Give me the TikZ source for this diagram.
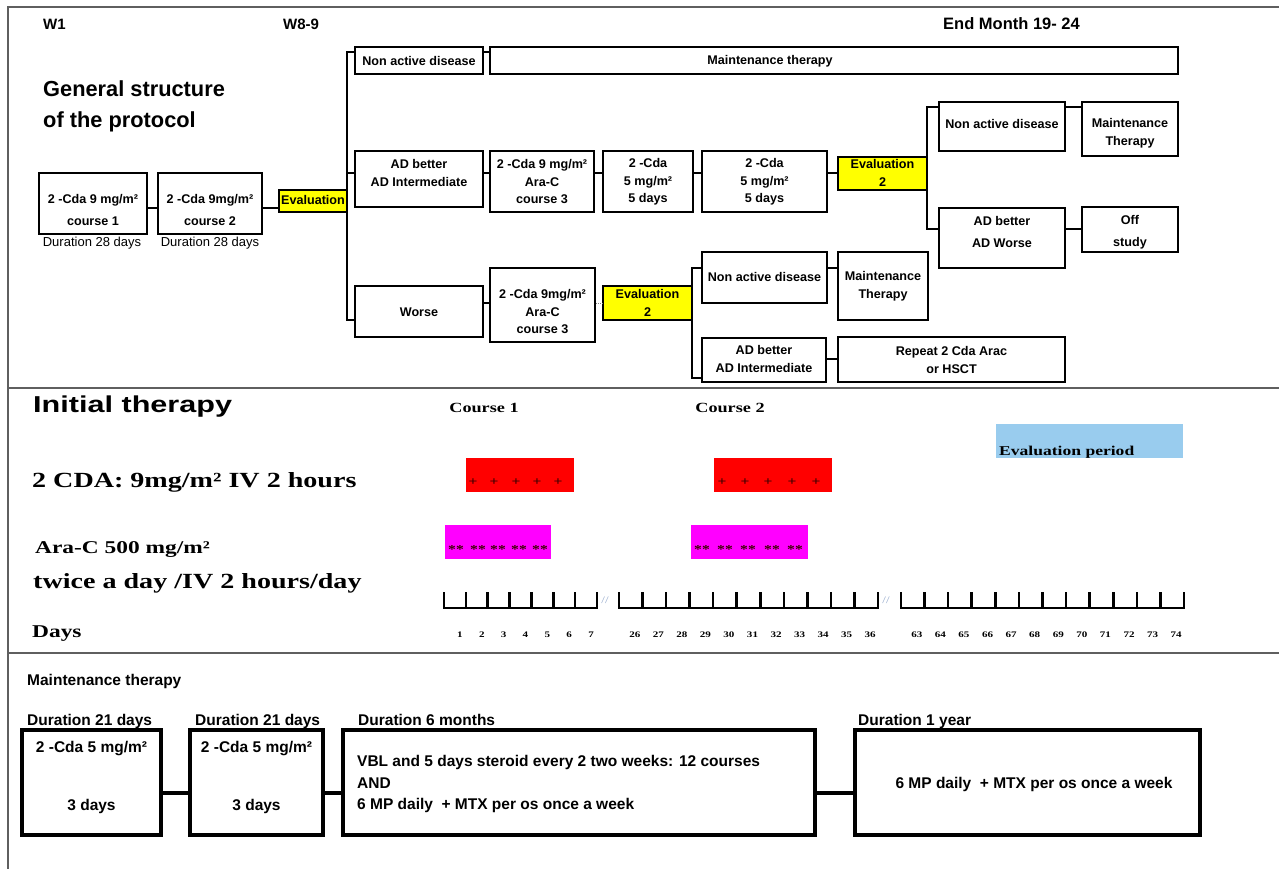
\documentclass[tikz,border=0pt]{standalone}
\usepackage{fontspec}
\setmainfont{Liberation Sans}
\newfontfamily\serifS[FakeStretch=1.3]{Liberation Serif}
\newfontfamily\sansS[FakeStretch=1.33]{Liberation Sans}
\definecolor{evblue}{RGB}{153,204,238}
\definecolor{framegray}{RGB}{95,95,95}
\definecolor{slashc}{RGB}{150,170,205}
\definecolor{dotred}{RGB}{60,0,0}
\definecolor{barred}{RGB}{255,0,0}
\definecolor{barmag}{RGB}{255,0,255}
\definecolor{evyellow}{RGB}{255,255,0}
\newcommand\mybox[8][box]{%
  \node[#1, minimum width={(#5-#3)*1pt}, minimum height={(#6-#4)*1pt}] (#2) at ({(#3+#5)/2},{(#4+#6)/2}) {};
  \node[btxt] (#2-t) at ({(#3+#5)/2},#7) {#8};}
\begin{document}
\begin{tikzpicture}[x=1pt,y=-1pt,line join=miter,
  box/.style={draw, line width=2.4pt, inner sep=0pt, fill=white},
  bigbox/.style={draw, line width=3.2pt, inner sep=0pt, fill=white},
  evbox/.style={draw, line width=1.3pt, fill=evyellow, inner sep=0pt},
  conn/.style={line width=2.4pt},
  bconn/.style={line width=3.2pt},
  framel/.style={draw=framegray, line width=1.6pt},
  btxt/.style={font=\fontsize{12.6}{17.5}\selectfont\bfseries, align=center, inner sep=0pt},
  ntxt/.style={font=\fontsize{13}{15}\selectfont, inner sep=0pt},
  htxt/.style={font=\fontsize{15}{18}\selectfont\bfseries, inner sep=0pt, anchor=base west},
  ttxt/.style={font=\fontsize{21.8}{26}\selectfont\bfseries, inner sep=0pt, anchor=base west},
  itxt/.style={font=\sansS\fontsize{23}{26}\selectfont\bfseries, inner sep=0pt, anchor=base west},
  sbig/.style={font=\serifS\fontsize{21.6}{25}\selectfont\bfseries, inner sep=0pt, anchor=base west},
  smid/.style={font=\serifS\fontsize{18}{22}\selectfont\bfseries, inner sep=0pt, anchor=base west},
  scourse/.style={font=\serifS\fontsize{14}{16}\selectfont\bfseries, inner sep=0pt, anchor=base},
  snum/.style={font=\serifS\fontsize{8.5}{10}\selectfont\bfseries, inner sep=0pt, anchor=base},
  smark/.style={font=\serifS\fontsize{12}{12}\selectfont\bfseries, text=dotred, inner sep=0pt},
  sslash/.style={font=\serifS\fontsize{10}{10}\selectfont, text=slashc, inner sep=0pt},
  tl/.style={line width=2.6pt},
  mtxt/.style={font=\fontsize{15.5}{19}\selectfont\bfseries, inner sep=0pt, anchor=base west},
  mbtxt/.style={font=\fontsize{15.5}{19}\selectfont\bfseries, inner sep=0pt, anchor=base},
]
\useasboundingbox (0,0) rectangle (1279,869);
\fill[white] (0,0) rectangle (1279,869);
% frame
\draw[framel] (1279,7) -- (8,7) -- (8,869);
\draw[framel] (8,388) -- (1279,388);
\draw[framel] (8,653) -- (1279,653);

% ---------- top section ----------
\node[htxt] (w1) at (43,30) {W1};
\node[htxt] (w89) at (283,30) {W8-9};
\node[htxt, font=\fontsize{16.5}{18}\selectfont\bfseries] (endm) at (943,30) {End Month 19- 24};
\node[ttxt] (gs1) at (43,97) {General structure};
\node[ttxt] (gs2) at (43,128) {of the protocol};

\mybox{c1}{39}{173}{147}{234}{210}{2 -Cda 9 mg/m²\\[4pt]course 1}
\mybox{c2}{158}{173}{262}{234}{210}{2 -Cda 9mg/m²\\[4pt]course 2}
\node[ntxt] (dur1) at (92,243) {Duration 28 days};
\node[ntxt] (dur2) at (210,243) {Duration 28 days};
\mybox[evbox]{ev1}{279}{190}{347}{212}{200}{Evaluation}

\mybox{nad1}{355}{47}{483}{74}{61}{Non active disease}
\node[box, minimum width=688pt, minimum height=27pt] (mt1) at (834,60.5) {};
\node[btxt] (mt1-t) at (770,61) {Maintenance therapy};
\mybox{adb1}{355}{151}{483}{207}{173}{AD better\\AD Intermediate}
\mybox{worse}{355}{286}{483}{337}{312}{Worse}

\mybox{c3}{490}{151}{594}{212}{182}{2 -Cda 9 mg/m²\\Ara-C\\course 3}
\mybox{d5a}{603}{151}{693}{212}{182}{2 -Cda\\5 mg/m²\\5 days}
\mybox{d5b}{702}{151}{827}{212}{182}{2 -Cda\\5 mg/m²\\5 days}
\mybox[evbox]{ev2}{838}{157}{927}{190}{173}{Evaluation\\2}
\mybox{nad2}{939}{102}{1065}{151}{124}{Non active disease}
\mybox{mt2}{1082}{102}{1178}{156}{133}{Maintenance\\Therapy}
\mybox{adw}{939}{208}{1065}{268}{232}{AD better\\[4pt]AD Worse}
\mybox{off}{1082}{207}{1178}{252}{232}{Off\\[4pt]study}

\mybox{c3b}{490}{268}{595}{342}{312}{2 -Cda 9mg/m²\\Ara-C\\course 3}
\mybox[evbox]{ev3}{603}{286}{692}{320}{303}{Evaluation\\2}
\mybox{nad3}{702}{252}{827}{303}{277}{Non active disease}
\mybox{mt3}{838}{252}{928}{320}{286}{Maintenance\\Therapy}
\mybox{adb3}{702}{338}{826}{382}{359}{AD better\\AD Intermediate}
\mybox{rep}{838}{337}{1065}{382}{360}{Repeat 2 Cda Arac\\or HSCT}

% connectors
\coordinate (s1a) at (347,52);
\coordinate (s1m) at (347,173);
\coordinate (s1b) at (347,320);
\coordinate (s2a) at (927,107);
\coordinate (s2b) at (927,229);
\coordinate (s3a) at (692,268);
\coordinate (s3b) at (692,378);
\draw[conn] (c1.east |- 0,208) -- (c2.west |- 0,208);
\draw[conn] (c2.east |- 0,208) -- (ev1.west |- 0,208);
\draw[conn] (nad1.west |- s1a) -- (s1a) -- (s1b) -- (worse.west |- s1b);
\draw[conn] (s1m) -- (adb1.west |- s1m);
\draw[conn] (nad1.east |- 0,52) -- (mt1.west |- 0,52);
\draw[conn] (adb1.east |- 0,173) -- (c3.west |- 0,173);
\draw[conn] (c3.east |- 0,173) -- (d5a.west |- 0,173);
\draw[conn] (d5a.east |- 0,173) -- (d5b.west |- 0,173);
\draw[conn] (d5b.east |- 0,173) -- (ev2.west |- 0,173);
\draw[conn] (nad2.west |- s2a) -- (s2a) -- (s2b) -- (adw.west |- s2b);
\draw[conn] (nad2.east |- 0,107) -- (mt2.west |- 0,107);
\draw[conn] (adw.east |- 0,229) -- (off.west |- 0,229);
\draw[conn] (worse.east |- 0,303) -- (c3b.west |- 0,303);
\draw[gray, densely dotted, line width=0.9pt] (c3b.east |- 0,303) -- (ev3.west |- 0,303);
\draw[conn] (nad3.west |- s3a) -- (s3a) -- (s3b) -- (adb3.west |- s3b);
\draw[conn] (nad3.east |- 0,268) -- (mt3.west |- 0,268);
\draw[conn] (adb3.east |- 0,359) -- (rep.west |- 0,359);

% ---------- middle section ----------
\node[itxt] (init) at (33,412) {Initial therapy};
\node[scourse] (co1) at (484,412) {Course 1};
\node[scourse] (co2) at (730,412) {Course 2};
\node[sbig] (cda) at (32,487) {2 CDA: 9mg/m² IV 2 hours};
\node[smid] (arac) at (35,553) {Ara-C 500 mg/m²};
\node[sbig] (twice) at (33,588) {twice a day /IV 2 hours/day};
\node[smid] (days) at (32,637) {Days};

\fill[barred] (466,458) rectangle (574,492);
\fill[barred] (714,458) rectangle (832,492);
\fill[barmag] (445,525) rectangle (551,559);
\fill[barmag] (691,525) rectangle (808,559);
\fill[evblue] (996,424) rectangle (1183,458);
\node[font=\serifS\fontsize{13.5}{15}\selectfont\bfseries, inner sep=0pt, anchor=base west] (evp) at (999,455) {Evaluation period};

\foreach \x [count=\i] in {473,494,516,537,558,722,745,768,792,816}
  \node[smark] (p\i) at (\x,482) {+};
\foreach \x [count=\i] in {456,478,498,519,540,702,725,748,772,795}
  \node[smark] (a\i) at (\x,550) {**};

% timeline
\draw[tl] (444,592) -- (444,608) -- (597,608) -- (597,592);
\foreach \i in {1,...,6} \draw[tl] ({444+\i*21.857},592) -- ({444+\i*21.857},608);
\foreach \n [count=\i] in {1,...,7}
  \node[snum] (n\n) at ({444+(\i-0.5)*21.857+5},637) {\n};
\draw[tl] (619,592) -- (619,608) -- (878,608) -- (878,592);
\foreach \i in {1,...,10} \draw[tl] ({619+\i*23.545},592) -- ({619+\i*23.545},608);
\foreach \n [count=\i] in {26,...,36}
  \node[snum] (n\n) at ({619+(\i-0.5)*23.545+4},637) {\n};
\draw[tl] (901,592) -- (901,608) -- (1184,608) -- (1184,592);
\foreach \i in {1,...,11} \draw[tl] ({901+\i*23.583},592) -- ({901+\i*23.583},608);
\foreach \n [count=\i] in {63,...,74}
  \node[snum] (n\n) at ({901+(\i-0.5)*23.583+4},637) {\n};
\node[sslash] (sl1) at (605,600) {//};
\node[sslash] (sl2) at (886,600) {//};

% ---------- bottom section ----------
\node[mtxt] (mainth) at (27,685) {Maintenance therapy};
\node[mtxt] (du1) at (27,725) {Duration 21 days};
\node[mtxt] (du2) at (195,725) {Duration 21 days};
\node[mtxt] (du3) at (358,725) {Duration 6 months};
\node[mtxt] (du4) at (858,725) {Duration 1 year};

\node[bigbox, minimum width=139pt, minimum height=105pt] (b1) at (91.5,782.5) {};
\node[bigbox, minimum width=133pt, minimum height=105pt] (b2) at (256.5,782.5) {};
\node[bigbox, minimum width=472pt, minimum height=105pt] (b3) at (579,782.5) {};
\node[bigbox, minimum width=345pt, minimum height=105pt] (b4) at (1027.5,782.5) {};
\node[mbtxt] (b1-t1) at (91.5,752) {2 -Cda 5 mg/m²};
\node[mbtxt] (b1-t2) at (91.5,810) {3 days};
\node[mbtxt] (b2-t1) at (256.5,752) {2 -Cda 5 mg/m²};
\node[mbtxt] (b2-t2) at (256.5,810) {3 days};
\node[font=\fontsize{15.5}{21.5}\selectfont\bfseries, align=left, inner sep=0pt, anchor=west] (b3-t) at (357,784)
  {VBL and 5 days steroid every 2 two weeks: 12 courses\\AND\\6 MP daily\ \ + MTX per os once a week};
\node[mbtxt] (b4-t) at (1034,788) {6 MP daily\ \ + MTX per os once a week};
\draw[bconn] (b1.east |- 0,793) -- (b2.west |- 0,793);
\draw[bconn] (b2.east |- 0,793) -- (b3.west |- 0,793);
\draw[bconn] (b3.east |- 0,793) -- (b4.west |- 0,793);
\end{tikzpicture}
\end{document}
